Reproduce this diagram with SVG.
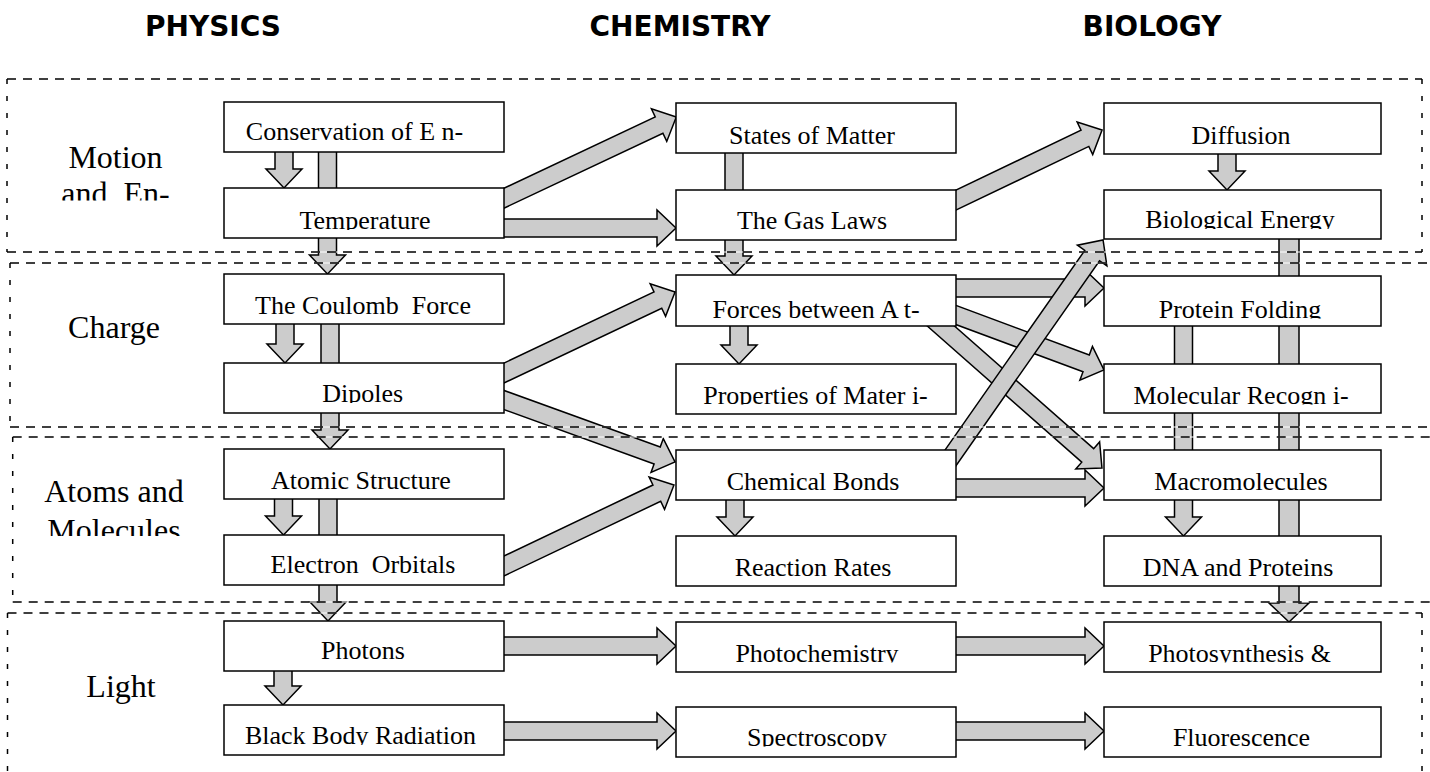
<svg xmlns="http://www.w3.org/2000/svg" width="1430" height="772" viewBox="0 0 1430 772">
<style>
.bx{fill:#fff;stroke:#000;stroke-width:1.5}
.t{font-family:"Liberation Serif","Times New Roman",serif;font-size:26px;fill:#000;text-anchor:middle}
.lb{font-family:"Liberation Serif","Times New Roman",serif;font-size:32px;fill:#000;text-anchor:middle}
.hd{font-family:"DejaVu Sans",Verdana,sans-serif;font-size:28px;font-weight:bold;fill:#000;text-anchor:middle}
.ar{fill:#cccccc;stroke:#000;stroke-width:1.5;stroke-linejoin:miter}
.wl{fill:none;stroke:#fff;stroke-width:1}
.dh{fill:none;stroke:#000;stroke-width:1.5;stroke-dasharray:9 7}
.dv{fill:none;stroke:#000;stroke-width:1.5;stroke-dasharray:5 12}
</style>
<defs>
<clipPath id="c11"><rect x="224" y="102" width="280" height="39"/></clipPath>
<clipPath id="c12"><rect x="224" y="188" width="280" height="42"/></clipPath>
<clipPath id="c13"><rect x="224" y="274" width="280" height="41"/></clipPath>
<clipPath id="c14"><rect x="224" y="363" width="280" height="40"/></clipPath>
<clipPath id="c15"><rect x="224" y="449" width="280" height="40.5"/></clipPath>
<clipPath id="c16"><rect x="224" y="535" width="280" height="39"/></clipPath>
<clipPath id="c17"><rect x="224" y="621" width="280" height="39"/></clipPath>
<clipPath id="c18"><rect x="224" y="705" width="280" height="40"/></clipPath>
<clipPath id="c21"><rect x="676" y="103" width="280" height="41.5"/></clipPath>
<clipPath id="c22"><rect x="676" y="190" width="280" height="39.5"/></clipPath>
<clipPath id="c23"><rect x="676" y="275" width="280" height="44"/></clipPath>
<clipPath id="c24"><rect x="676" y="364" width="280" height="40.5"/></clipPath>
<clipPath id="c25"><rect x="676" y="450" width="280" height="41"/></clipPath>
<clipPath id="c26"><rect x="676" y="536" width="280" height="41"/></clipPath>
<clipPath id="c27"><rect x="676" y="622" width="280" height="40.5"/></clipPath>
<clipPath id="c28"><rect x="676" y="707" width="280" height="39.5"/></clipPath>
<clipPath id="c31"><rect x="1104" y="103" width="277" height="41.5"/></clipPath>
<clipPath id="c32"><rect x="1104" y="190" width="277" height="39"/></clipPath>
<clipPath id="c33"><rect x="1104" y="276" width="277" height="42.5"/></clipPath>
<clipPath id="c34"><rect x="1104" y="364" width="277" height="40.5"/></clipPath>
<clipPath id="c35"><rect x="1104" y="450" width="277" height="41"/></clipPath>
<clipPath id="c36"><rect x="1104" y="536" width="277" height="41"/></clipPath>
<clipPath id="c37"><rect x="1104" y="622" width="277" height="40.5"/></clipPath>
<clipPath id="c38"><rect x="1104" y="707" width="277" height="39.5"/></clipPath>
<clipPath id="cl1"><rect x="0" y="100" width="224" height="100.5"/></clipPath>
<clipPath id="cl3"><rect x="0" y="440" width="224" height="96"/></clipPath>
</defs>

<g id="headers">
<text class="hd" x="213" y="36">PHYSICS</text>
<text class="hd" x="680" y="36">CHEMISTRY</text>
<text class="hd" x="1152" y="36">BIOLOGY</text>
</g>

<g id="connectors">
<path class="ar" transform="translate(284,140) rotate(90)" d="M0,-9 H29 V-18 L48,0 L29,18 V9 H0 Z"/>
<path class="ar" transform="translate(327.5,140) rotate(90)" d="M0,-9 H115 V-18 L134,0 L115,18 V9 H0 Z"/>
<path class="ar" transform="translate(285,315) rotate(90)" d="M0,-9 H29 V-18 L48,0 L29,18 V9 H0 Z"/>
<path class="ar" transform="translate(330,315) rotate(90)" d="M0,-9 H115 V-18 L134,0 L115,18 V9 H0 Z"/>
<path class="ar" transform="translate(283.5,490) rotate(90)" d="M0,-9 H26 V-18 L45,0 L26,18 V9 H0 Z"/>
<path class="ar" transform="translate(328,490) rotate(90)" d="M0,-9 H112 V-18 L131,0 L112,18 V9 H0 Z"/>
<path class="ar" transform="translate(283,660) rotate(90)" d="M0,-9 H26 V-18 L45,0 L26,18 V9 H0 Z"/>
<path class="ar" transform="translate(734,140) rotate(90)" d="M0,-9 H116 V-18 L135,0 L116,18 V9 H0 Z"/>
<path class="ar" transform="translate(739,315) rotate(90)" d="M0,-9 H30 V-18 L49,0 L30,18 V9 H0 Z"/>
<path class="ar" transform="translate(735,490) rotate(90)" d="M0,-9 H27 V-18 L46,0 L27,18 V9 H0 Z"/>
<path class="ar" transform="translate(1227,140) rotate(90)" d="M0,-9 H31 V-18 L50,0 L31,18 V9 H0 Z"/>
<path class="ar" transform="translate(1289,230) rotate(90)" d="M0,-10 H373 V-20 L392,0 L373,20 V10 H0 Z"/>
<path class="ar" transform="translate(1183.5,315) rotate(90)" d="M0,-9 H202 V-18 L221,0 L202,18 V9 H0 Z"/>
<path class="ar" transform="translate(490,228)" d="M0,-9 H167 V-18 L186,0 L167,18 V9 H0 Z"/>
<path class="ar" transform="translate(490,646)" d="M0,-9 H167 V-18 L186,0 L167,18 V9 H0 Z"/>
<path class="ar" transform="translate(490,731)" d="M0,-9 H167 V-18 L186,0 L167,18 V9 H0 Z"/>
<path class="ar" transform="translate(940,288)" d="M0,-9 H145 V-18 L164,0 L145,18 V9 H0 Z"/>
<path class="ar" transform="translate(940,488)" d="M0,-9 H145 V-18 L164,0 L145,18 V9 H0 Z"/>
<path class="ar" transform="translate(940,646)" d="M0,-9 H145 V-18 L164,0 L145,18 V9 H0 Z"/>
<path class="ar" transform="translate(940,731)" d="M0,-9 H145 V-18 L164,0 L145,18 V9 H0 Z"/>
<path class="ar" transform="translate(470,214.2) rotate(-25.22)" d="M0,-9 H209 V-18 L228,0 L209,18 V9 H0 Z"/>
<path class="ar" transform="translate(921.7,216.5) rotate(-25.6)" d="M0,-9 H181 V-18 L200,0 L181,18 V9 H0 Z"/>
<path class="ar" transform="translate(469,389.6) rotate(-25.35)" d="M0,-9 H209 V-18 L228,0 L209,18 V9 H0 Z"/>
<path class="ar" transform="translate(468.2,387) rotate(19.93)" d="M0,-9 H201 V-18 L220,0 L201,18 V9 H0 Z"/>
<path class="ar" transform="translate(493.4,571) rotate(-25.47)" d="M0,-9 H181 V-18 L200,0 L181,18 V9 H0 Z"/>
<path class="ar" transform="translate(916.5,300.3) rotate(20.39)" d="M0,-9 H181 V-18 L200,0 L181,18 V9 H0 Z"/>
<path class="ar" transform="translate(900,290) rotate(41.39)" d="M0,-9 H250.2 V-18 L269.2,0 L250.2,18 V9 H0 Z"/>
<path class="ar" transform="translate(928,490) rotate(-55)" d="M0,-9 H286.2 V-18 L305.2,0 L286.2,18 V9 H0 Z"/>
</g>

<g id="bands">
<path class="wl" d="M7,79 H1422 M7,252 H1422 M10,263 H1430 M10,427 H1430 M12.7,437 H1430 M12.7,602 H1430 M7.5,613 H1422"/>
<path class="dh" d="M7,79 H1422 M7,252 H1422 M10,263 H1430 M10,427 H1430 M12.7,437 H1430 M12.7,602 H1430 M7.5,613 H1422"/>
<path class="dv" d="M7,79 V252 M1422,79 V252 M10,263 V427 M12.7,437 V602 M7.5,613 V772 M1422,613 V772"/>
</g>

<g id="labels">
<g id="lbl-motion" clip-path="url(#cl1)"><text class="lb" x="115.5" y="168">Motion</text><text class="lb" x="115.5" y="204" xml:space="preserve">and  En-</text></g>
<text id="lbl-charge" class="lb" x="114" y="338">Charge</text>
<g id="lbl-atoms" clip-path="url(#cl3)"><text class="lb" x="114" y="502">Atoms and</text><text class="lb" x="114" y="541">Molecules</text></g>
<text id="lbl-light" class="lb" x="121" y="697">Light</text>
</g>

<g id="n-conservation"><rect class="bx" x="224" y="102" width="280" height="50"/><text class="t" x="354.5" y="140" clip-path="url(#c11)">Conservation of E n-</text></g>
<g id="n-temperature"><rect class="bx" x="224" y="188" width="280" height="50"/><text class="t" x="365" y="229" clip-path="url(#c12)">Temperature</text></g>
<g id="n-coulomb"><rect class="bx" x="224" y="274" width="280" height="50"/><text class="t" x="363" y="314" xml:space="preserve" clip-path="url(#c13)">The Coulomb  Force</text></g>
<g id="n-dipoles"><rect class="bx" x="224" y="363" width="280" height="50"/><text class="t" x="362.7" y="402" clip-path="url(#c14)">Dipoles</text></g>
<g id="n-atomic"><rect class="bx" x="224" y="449" width="280" height="50"/><text class="t" x="361" y="488.5" clip-path="url(#c15)">Atomic Structure</text></g>
<g id="n-electron"><rect class="bx" x="224" y="535" width="280" height="50"/><text class="t" x="363" y="573" xml:space="preserve" clip-path="url(#c16)">Electron  Orbitals</text></g>
<g id="n-photons"><rect class="bx" x="224" y="621" width="280" height="50"/><text class="t" x="363" y="659" clip-path="url(#c17)">Photons</text></g>
<g id="n-blackbody"><rect class="bx" x="224" y="705" width="280" height="50"/><text class="t" x="360.5" y="744" clip-path="url(#c18)">Black Body Radiation</text></g>

<g id="n-states"><rect class="bx" x="676" y="103" width="280" height="50"/><text class="t" x="812" y="143.5" clip-path="url(#c21)">States of Matter</text></g>
<g id="n-gaslaws"><rect class="bx" x="676" y="190" width="280" height="50"/><text class="t" x="812" y="228.5" clip-path="url(#c22)">The Gas Laws</text></g>
<g id="n-forces"><rect class="bx" x="676" y="275" width="280" height="51"/><text class="t" x="816" y="318" clip-path="url(#c23)">Forces between A t-</text></g>
<g id="n-properties"><rect class="bx" x="676" y="364" width="280" height="50"/><text class="t" x="815.5" y="403.5" clip-path="url(#c24)">Properties of Mater i-</text></g>
<g id="n-bonds"><rect class="bx" x="676" y="450" width="280" height="50"/><text class="t" x="813" y="490" clip-path="url(#c25)">Chemical Bonds</text></g>
<g id="n-rates"><rect class="bx" x="676" y="536" width="280" height="50"/><text class="t" x="813" y="576" clip-path="url(#c26)">Reaction Rates</text></g>
<g id="n-photochem"><rect class="bx" x="676" y="622" width="280" height="50"/><text class="t" x="817" y="661.5" clip-path="url(#c27)">Photochemistry</text></g>
<g id="n-spectro"><rect class="bx" x="676" y="707" width="280" height="50"/><text class="t" x="817" y="745.5" clip-path="url(#c28)">Spectroscopy</text></g>

<g id="n-diffusion"><rect class="bx" x="1104" y="103" width="277" height="51"/><text class="t" x="1241" y="143.5" clip-path="url(#c31)">Diffusion</text></g>
<g id="n-bioenergy"><rect class="bx" x="1104" y="190" width="277" height="49"/><text class="t" x="1240" y="228" clip-path="url(#c32)">Biological Energy</text></g>
<g id="n-folding"><rect class="bx" x="1104" y="276" width="277" height="50"/><text class="t" x="1240" y="317.5" clip-path="url(#c33)">Protein Folding</text></g>
<g id="n-recog"><rect class="bx" x="1104" y="364" width="277" height="49"/><text class="t" x="1241" y="403.5" clip-path="url(#c34)">Molecular Recogn i-</text></g>
<g id="n-macro"><rect class="bx" x="1104" y="450" width="277" height="50"/><text class="t" x="1241" y="490" clip-path="url(#c35)">Macromolecules</text></g>
<g id="n-dna"><rect class="bx" x="1104" y="536" width="277" height="50"/><text class="t" x="1238" y="576" clip-path="url(#c36)">DNA and Proteins</text></g>
<g id="n-photosynth"><rect class="bx" x="1104" y="622" width="277" height="50"/><text class="t" x="1239.5" y="661.5" clip-path="url(#c37)">Photosynthesis &amp;</text></g>
<g id="n-fluor"><rect class="bx" x="1104" y="707" width="277" height="50"/><text class="t" x="1241.5" y="745.5" clip-path="url(#c38)">Fluorescence</text></g>
</svg>
